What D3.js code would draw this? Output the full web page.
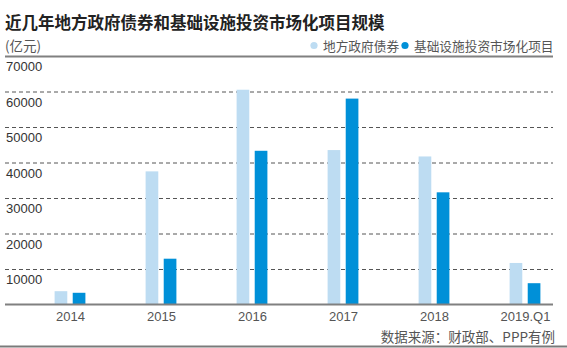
<!DOCTYPE html>
<html><head><meta charset="utf-8">
<script src="https://cdn.jsdelivr.net/npm/d3@7"></script>
<style>
body{margin:0;background:#fff;}
svg{display:block;}
</style></head>
<body><svg id="c" width="567" height="348"></svg>
<script>
const categories = ["2014","2015","2016","2017","2018","2019.Q1"];
const seriesNames = ["地方政府债券","基础设施投资市场化项目"];
const localBonds = [3750, 37500, 60500, 43500, 41700, 11700];
const infraProjects = [3300, 12900, 43300, 58000, 31600, 6000];
const yTicks = [10000,20000,30000,40000,50000,60000,70000];
const colors = ["#bddcf2","#0090d8"];

const svg = d3.select("#c");
const fontCJK = "'Noto Sans CJK SC','Noto Sans',sans-serif";
const fontNum = "'Liberation Sans',Arial,sans-serif";

const y = d3.scaleLinear().domain([0,70000]).range([304.5,56]);
const x = d3.scalePoint().domain(categories).range([70,525]);
const x1 = d3.scaleBand().domain(seriesNames).range([-15.4,15.4]).paddingInner(0.3);

// title
svg.append("text").attr("x",5).attr("y",29).text("近几年地方政府债券和基础设施投资市场化项目规模")
  .attr("font-family",fontCJK).attr("font-size",16.5).attr("font-weight","bold").attr("fill","#222");
svg.append("text").attr("x",5).attr("y",51).text("(亿元)")
  .attr("font-family",fontCJK).attr("font-size",13.5).attr("fill","#555");

// legend
const legendX = [314, 405];
seriesNames.forEach((s,i)=>{
  svg.append("circle").attr("cx",legendX[i]).attr("cy",45.5).attr("r",3.6).attr("fill",colors[i]);
  svg.append("text").attr("x",legendX[i]+9).attr("y",50.5).text(s)
    .attr("font-family",fontCJK).attr("font-size",12.7).attr("fill","#555");
});

// grid axis
const gAxis = svg.append("g").attr("transform","translate(5,0)")
  .call(d3.axisRight(y).tickValues(yTicks).tickSize(548).tickFormat(d3.format("d")));
gAxis.select(".domain").remove();
gAxis.selectAll(".tick line").attr("stroke","#555").attr("stroke-dasharray","4,3").attr("stroke-width",1);
gAxis.selectAll(".tick").filter(d=>d===70000).select("line")
  .attr("stroke","#808080").attr("stroke-dasharray",null).attr("stroke-width",2);
gAxis.selectAll(".tick text").attr("x",1).attr("dy","1.15em").attr("text-anchor","start")
  .attr("font-family",fontNum).attr("font-size",13).attr("fill","#333");

// bars
const data = categories.map((c,i)=>({cat:c, vals:[localBonds[i], infraProjects[i]]}));
const groups = svg.append("g").selectAll("g").data(data).join("g")
  .attr("transform",d=>`translate(${x(d.cat)},0)`);
groups.selectAll("rect").data(d=>d.vals.map((v,i)=>({s:seriesNames[i],v,i}))).join("rect")
  .attr("x",d=>x1(d.s)).attr("width",x1.bandwidth())
  .attr("y",d=>y(d.v)).attr("height",d=>y(0)-y(d.v)).attr("fill",d=>colors[d.i]);

// baseline
svg.append("line").attr("x1",5).attr("x2",553).attr("y1",y(0)).attr("y2",y(0))
  .attr("stroke","#808080").attr("stroke-width",2);

// x axis
const xAxis = svg.append("g").attr("transform",`translate(0,${y(0)})`)
  .call(d3.axisBottom(x).tickSize(0).tickPadding(7));
xAxis.select(".domain").remove();
xAxis.selectAll("text").attr("font-family",fontNum).attr("font-size",13).attr("fill","#555");

// source
svg.append("text").attr("x",555).attr("y",342).attr("text-anchor","end").text("数据来源：财政部、PPP有例")
  .attr("font-family",fontCJK).attr("font-size",13.5).attr("fill","#555");

// bottom rule
svg.append("line").attr("x1",0).attr("x2",567).attr("y1",346.5).attr("y2",346.5)
  .attr("stroke","#7a7a7a").attr("stroke-width",2);
</script></body></html>
